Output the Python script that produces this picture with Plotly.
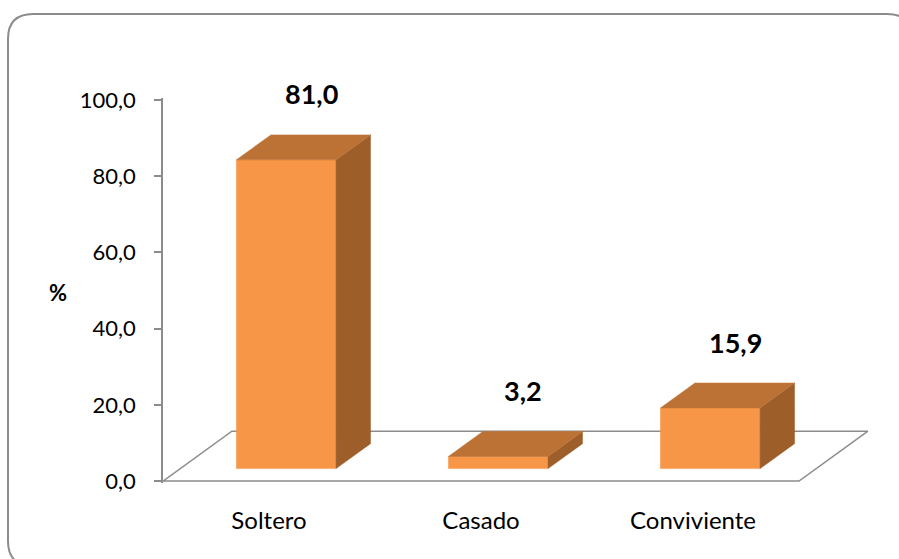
import plotly.graph_objects as go

# Data
categories = ["Soltero", "Casado", "Conviviente"]
values = [81.0, 3.2, 15.9]
y_ticks = [0, 20, 40, 60, 80, 100]

# Pseudo-3D geometry (in axis units)
DEPTH_X = 0.325      # horizontal shift of the full floor depth (x units)
DEPTH_Y = 13.1       # vertical shift of the full floor depth (y units)
BAR_W = 0.47         # bar width (x units)
FRONT, BACK = 0.25, 0.75   # bar position inside the floor depth

FRONT_COLOR = "#F79646"
TOP_COLOR = "#BD7235"
SIDE_COLOR = "#9D5E2A"
GRID_GRAY = "#8C8C8C"

# figure / plot-area size in pixels
W, H = 899, 559
ML, MR, MT, MB = 163, 30, 98, 76
PW, PH = W - ML - MR, H - MT - MB

fig = go.Figure()

n = len(categories)

# floor plane
fig.add_trace(go.Scatter(
    x=[0, n, n + DEPTH_X, DEPTH_X, 0],
    y=[0, 0, DEPTH_Y, DEPTH_Y, 0],
    mode="lines", fill="toself", fillcolor="white",
    line=dict(color=GRID_GRAY, width=1.5),
    hoverinfo="skip", showlegend=False,
))


def face(xs, ys, color):
    fig.add_trace(go.Scatter(
        x=xs + [xs[0]], y=ys + [ys[0]],
        mode="lines", fill="toself", fillcolor=color,
        line=dict(color=color, width=0.5),
        hoverinfo="skip", showlegend=False,
    ))


for i, v in enumerate(values):
    c = i + 0.5
    fx0 = c - BAR_W / 2 + FRONT * DEPTH_X
    fx1 = c + BAR_W / 2 + FRONT * DEPTH_X
    fy0 = FRONT * DEPTH_Y
    fy1 = v + FRONT * DEPTH_Y
    dx = (BACK - FRONT) * DEPTH_X
    dy = (BACK - FRONT) * DEPTH_Y
    # front face
    face([fx0, fx1, fx1, fx0], [fy0, fy0, fy1, fy1], FRONT_COLOR)
    # right side face
    face([fx1, fx1 + dx, fx1 + dx, fx1], [fy0, fy0 + dy, fy1 + dy, fy1], SIDE_COLOR)
    # top face
    face([fx0, fx1, fx1 + dx, fx0 + dx], [fy1, fy1, fy1 + dy, fy1 + dy], TOP_COLOR)
    # value label, anchored on the back edge of the top face
    fig.add_annotation(
        x=c + 0.2, y=fy1 + dy, xref="x", yref="y", yshift=41,
        text=f"{v:.1f}".replace(".", ","), showarrow=False,
        font=dict(family="Lato", size=27, color="black", weight="bold"),
        xanchor="center", yanchor="middle",
    )

# axis title "%"
fig.add_annotation(
    x=-0.149, y=49.5, xref="paper", yref="y",
    text="<b>%</b>", showarrow=False,
    font=dict(family="Lato", size=22, color="black"),
    xanchor="center", yanchor="middle",
)


# outer chart frame with rounded corners (pixel -> paper conversion)
def px(xp):
    return (xp - ML) / PW


def py(yp):
    return (H - MB - yp) / PH


L, T, R, B, RAD = 8, 14, 912, 566, 25
frame_path = (
    f"M {px(L)} {py(B - RAD)} "
    f"L {px(L)} {py(T + RAD)} "
    f"Q {px(L)} {py(T)} {px(L + RAD)} {py(T)} "
    f"L {px(R - RAD)} {py(T)} "
    f"Q {px(R)} {py(T)} {px(R)} {py(T + RAD)} "
    f"L {px(R)} {py(B - RAD)} "
    f"Q {px(R)} {py(B)} {px(R - RAD)} {py(B)} "
    f"L {px(L + RAD)} {py(B)} "
    f"Q {px(L)} {py(B)} {px(L)} {py(B - RAD)} Z"
)
fig.add_shape(
    type="path", xref="paper", yref="paper", path=frame_path,
    line=dict(color=GRID_GRAY, width=2), fillcolor="rgba(0,0,0,0)",
    layer="above",
)

fig.update_layout(
    width=W, height=H,
    margin=dict(l=ML, r=MR, t=MT, b=MB),
    paper_bgcolor="white", plot_bgcolor="white",
    separators=",.",
    font=dict(family="Lato", size=22, color="black"),
    xaxis=dict(
        range=[0, 3.33], showgrid=False, zeroline=False, showline=False,
        tickmode="array", tickvals=[i + 0.5 for i in range(n)], ticktext=categories,
        ticks="", ticklabelstandoff=21, tickfont=dict(size=24), fixedrange=True,
    ),
    yaxis=dict(
        range=[-0.5, 100.5], showgrid=False, zeroline=False,
        showline=True, linecolor=GRID_GRAY, linewidth=1.5,
        ticks="outside", ticklen=7, tickcolor=GRID_GRAY, tickwidth=1.5,
        tickmode="array", tickvals=y_ticks, tickformat=".1f",
        ticklabelstandoff=14, fixedrange=True,
    ),
)

fig.write_html("out.html")
